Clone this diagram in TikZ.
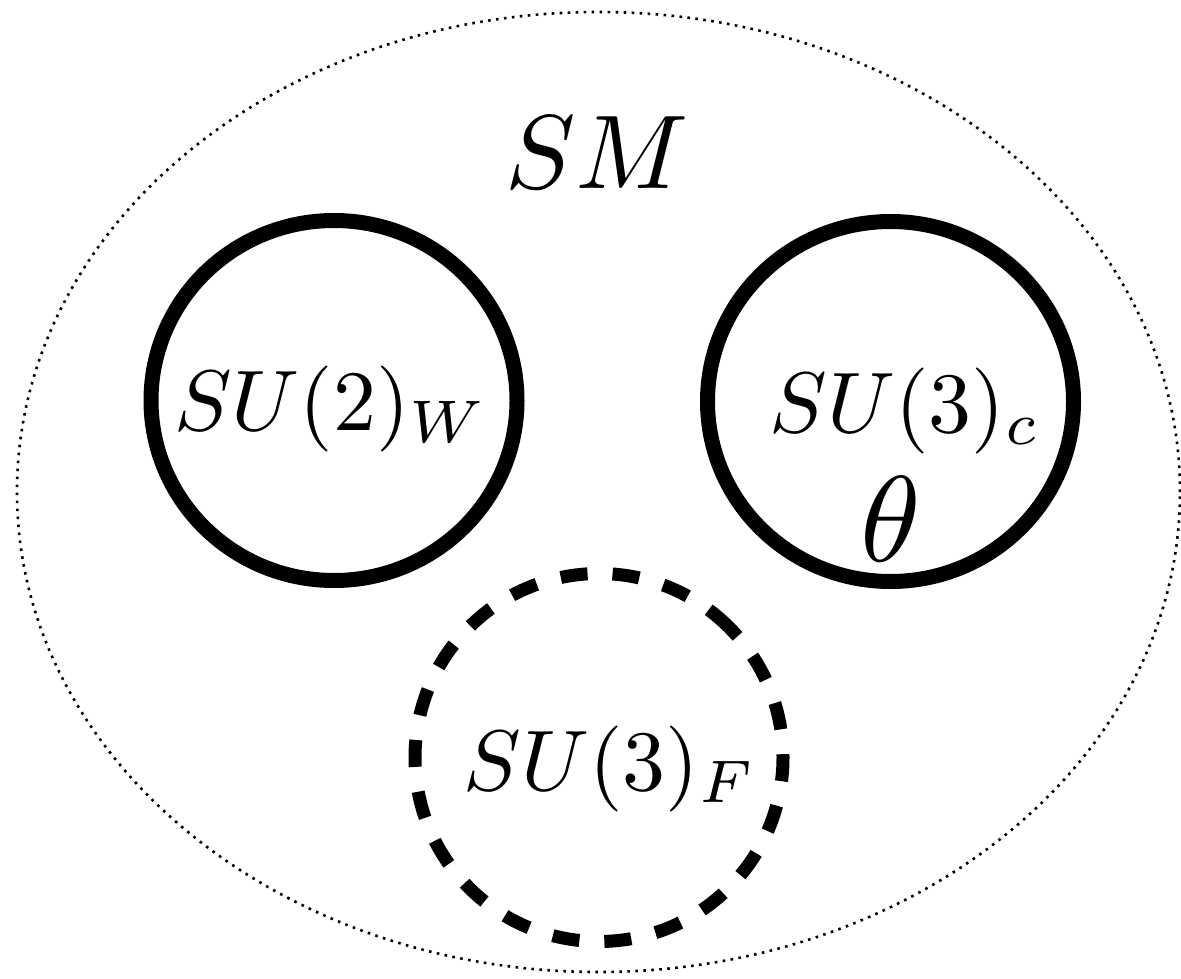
\documentclass[tikz,border=0pt]{standalone}
\tikzset{
  ring/.style={line width=7.5pt},
  dashring/.style={line width=6.5pt, dash pattern=on 13.5pt off 12.5pt},
  outerdots/.style={line width=1.3pt, dash pattern=on 1.3pt off 2.7pt},
  lbl/.style={inner sep=0pt, anchor=base},
}
\begin{document}
\begin{tikzpicture}[x=0.5pt,y=-0.5pt]
\useasboundingbox (0,0) rectangle (1181,978);
% outer ellipse
\draw[outerdots] (598.5,492) ellipse [x radius=290.75pt, y radius=240pt];
% circles
\draw[ring] (334,400.5) ellipse [x radius=91.5pt, y radius=90pt];
\draw[ring] (890.5,401.5) ellipse [x radius=91.5pt, y radius=90pt];
\coordinate (fc) at (599,757.5);
\draw[dashring] ([shift={(45:92pt)}]fc) arc [start angle=45, end angle=405, radius=92pt];
% labels
\node[lbl, scale=5.25] (sm) at (597,189) {$SM$};
\node[lbl, scale=4.3] (w) at (331,430) {$SU(2)_W$};
\node[lbl, scale=4.3] (c) at (905,432) {$SU(3)_c$};
\node[lbl, scale=6.1] (th) at (891,561) {$\theta$};
\node[lbl, scale=4.3] (f) at (610,790) {$SU(3)_F$};
\end{tikzpicture}
\end{document}
